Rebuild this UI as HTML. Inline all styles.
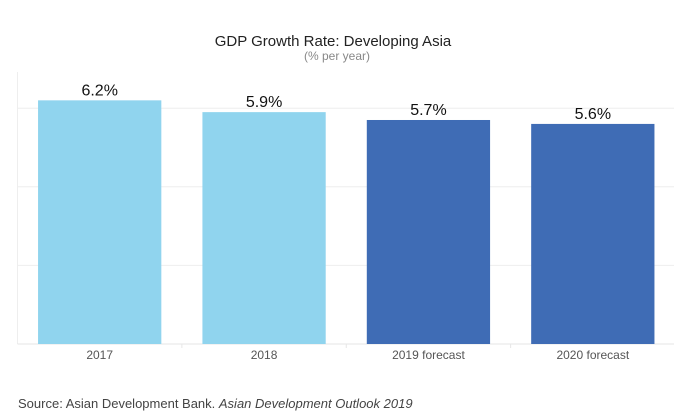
<!DOCTYPE html>
<html><head><meta charset="utf-8"><style>
body{margin:0;background:#fff;}
svg{display:block;font-family:"Liberation Sans",Arial,sans-serif;}
</style></head><body>
<svg id="c" width="674" height="418">
<text x="333" y="46" text-anchor="middle" font-size="15" fill="#222">GDP Growth Rate: Developing Asia</text>
<text x="337" y="60" text-anchor="middle" font-size="12" fill="#888">(% per year)</text>
<g id="grid"></g><g id="bars"></g>
<text x="18" y="408" font-size="13" fill="#444">Source: Asian Development Bank. <tspan font-style="italic">Asian Development Outlook 2019</tspan></text>
</svg>
<script>
const categories=["2017","2018","2019 forecast","2020 forecast"];
const values=[6.2,5.9,5.7,5.6];
const labels=["6.2%","5.9%","5.7%","5.6%"];
const yTicks=[2,4,6];
const forecast=[false,false,true,true];
const NS="http://www.w3.org/2000/svg";
const x0=17.5,x1=675,yBase=344,yTop=72,perUnit=39.3;
const y=v=>yBase-v*perUnit;
const bw=(x1-x0)/categories.length;
function mk(t,a,p){const e=document.createElementNS(NS,t);for(const k in a)e.setAttribute(k,a[k]);p.appendChild(e);return e;}
const g=document.getElementById('grid'),b=document.getElementById('bars');
yTicks.forEach(t=>{const l=mk('line',{x1:x0,x2:x1,y1:y(t),y2:y(t),stroke:'#eeeeee'},g);

});
const ax=mk('line',{x1:x0,x2:x0,y1:yTop,y2:yBase,stroke:'#eeeeee'},g);


const xa=mk('line',{x1:x0,x2:x1,y1:yBase,y2:yBase,stroke:'#e6e6e6'},g);


categories.forEach((c,i)=>{
const bx=x0+i*bw;
if(i>0){const tk=mk('line',{x1:bx,x2:bx,y1:yBase,y2:yBase+4,stroke:'#e6e6e6'},g);

}
const r=mk('rect',{x:bx+bw*0.125,y:y(values[i]),width:bw*0.75,height:yBase-y(values[i]),fill:forecast[i]?'#3f6cb5':'#90d4ee'},b);


const vl=mk('text',{x:bx+bw/2,y:y(values[i])-5,'text-anchor':'middle','font-size':16,fill:'#111'},b);vl.textContent=labels[i];


const xl=mk('text',{x:bx+bw/2,y:yBase+15,'text-anchor':'middle','font-size':12,fill:'#555'},b);xl.textContent=c;


});
</script>
</body></html>
